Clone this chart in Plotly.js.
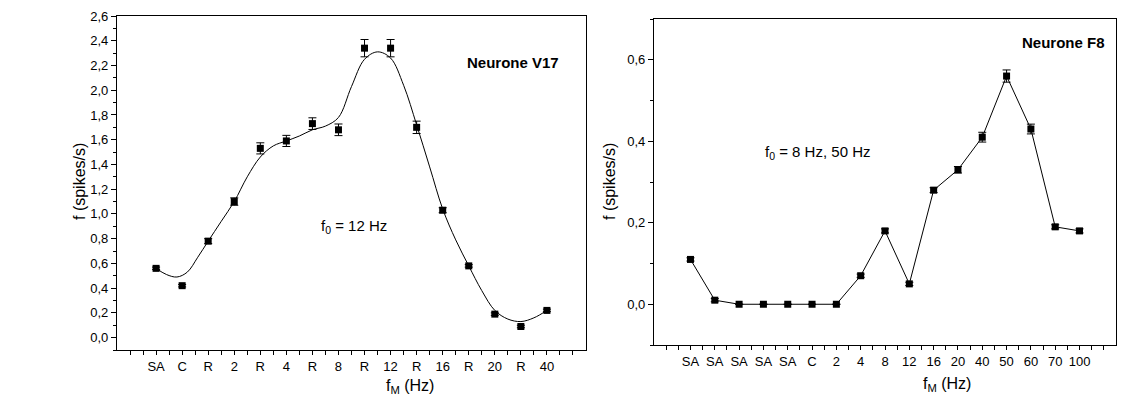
<!DOCTYPE html>
<html>
<head>
<meta charset="utf-8">
<script src="https://cdn.plot.ly/plotly-3.0.1.min.js"></script>
<style>
  html, body { margin: 0; padding: 0; background: #fff; }
  #chart { width: 1140px; height: 396px; }
</style>
</head>
<body>
<div id="chart"></div>
<script>
// Neurone V17: stimulus sequence, mean rate and error
const catsV17 = ['SA','C','R','2','R','4','R','8','R','12','R','16','R','20','R','40'];
const rateV17 = [0.56,0.42,0.78,1.10,1.53,1.59,1.73,1.68,2.34,2.34,1.70,1.03,0.58,0.19,0.09,0.22];
const errV17  = [0.01,0.01,0.02,0.03,0.045,0.045,0.047,0.047,0.07,0.07,0.05,0.02,0.01,0.01,0.01,0.01];

// Smoothed fit through the V17 responses (position in sequence, rate)
const fitPosV17  = [0,0.4,0.8,1.2,1.6,2,2.5,3,3.5,4,4.5,5,5.5,6,6.5,7,7.5,8,8.5,9,9.5,10,10.5,11,11.5,12,12.5,13,13.5,14,14.5,15];
const fitRateV17 = [0.56,0.51,0.49,0.53,0.65,0.78,0.94,1.10,1.30,1.46,1.55,1.59,1.63,1.68,1.71,1.78,2.03,2.25,2.31,2.26,2.04,1.72,1.38,1.04,0.79,0.58,0.38,0.22,0.15,0.13,0.16,0.22];

// Neurone F8: stimulus sequence, mean rate and error
const catsF8 = ['SA','SA','SA','SA','SA','C','2','4','8','12','16','20','40','50','60','70','100'];
const rateF8 = [0.11,0.01,0,0,0,0,0,0.07,0.18,0.05,0.28,0.33,0.41,0.56,0.43,0.19,0.18];
const errF8  = [0.004,0.004,0,0,0,0,0,0.004,0.005,0.004,0.006,0.008,0.012,0.015,0.012,0.005,0.005];

const FONT = 'Liberation Sans, Arial, Helvetica, sans-serif';
const W = 1140, H = 396;

// plot areas in pixels
const boxL = {x0: 117, x1: 586, y0: 16, y1: 350};
const boxR = {x0: 654, x1: 1116, y0: 19, y1: 345};
const px = v => v / W;
const py = v => 1 - v / H;

function idx(n) { return Array.from({length: n}, (_, i) => i); }

// category ticks every half step; only whole steps carry a label
function catTicks(cats) {
  const vals = [], text = [];
  for (let k = -2; k <= 2 * cats.length; k++) {
    const v = k / 2;
    vals.push(v);
    text.push(Number.isInteger(v) && v >= 0 && v < cats.length ? cats[v] : '');
  }
  return {vals, text};
}

const tL = catTicks(catsV17);
const tR = catTicks(catsF8);

const axisCommon = {
  showline: true, mirror: true, linecolor: '#000', linewidth: 1.3,
  showgrid: false, zeroline: false, ticks: 'outside', tickcolor: '#000',
  tickwidth: 1, tickfont: {family: FONT, size: 13, color: '#000'}
};

const markerStyle = {symbol: 'square', size: 7, color: '#000'};

const traces = [
  {
    x: fitPosV17, y: fitRateV17, xaxis: 'x', yaxis: 'y',
    mode: 'lines', line: {color: '#000', width: 1, shape: 'spline', smoothing: 1},
    hoverinfo: 'skip'
  },
  {
    x: idx(catsV17.length), y: rateV17, xaxis: 'x', yaxis: 'y',
    mode: 'markers', marker: markerStyle,
    error_y: {type: 'data', array: errV17, visible: true, color: '#000', thickness: 1, width: 4}
  },
  {
    x: idx(catsF8.length), y: rateF8, xaxis: 'x2', yaxis: 'y2',
    mode: 'lines+markers', marker: markerStyle, line: {color: '#000', width: 1},
    error_y: {type: 'data', array: errF8, visible: true, color: '#000', thickness: 1, width: 4}
  }
];

const layout = {
  width: W, height: H,
  margin: {l: 0, r: 0, t: 0, b: 0},
  paper_bgcolor: '#fff', plot_bgcolor: '#fff',
  showlegend: false,
  separators: ',.',
  font: {family: FONT, color: '#000'},
  xaxis: Object.assign({}, axisCommon, {
    domain: [px(boxL.x0), px(boxL.x1)], anchor: 'y',
    range: [-1.5, catsV17.length + 0.5],
    tickmode: 'array', tickvals: tL.vals, ticktext: tL.text, ticklen: 4
  }),
  yaxis: Object.assign({}, axisCommon, {
    domain: [py(boxL.y1), py(boxL.y0)], anchor: 'x',
    range: [-0.1, 2.6], tick0: 0, dtick: 0.2, tickformat: '.1f', ticklen: 5,
    minor: {dtick: 0.1, tick0: 0, ticks: 'outside', ticklen: 3, tickcolor: '#000', tickwidth: 1}
  }),
  xaxis2: Object.assign({}, axisCommon, {
    domain: [px(boxR.x0), px(boxR.x1)], anchor: 'y2',
    range: [-1.5, catsF8.length + 0.5],
    tickmode: 'array', tickvals: tR.vals, ticktext: tR.text, ticklen: 4
  }),
  yaxis2: Object.assign({}, axisCommon, {
    domain: [py(boxR.y1), py(boxR.y0)], anchor: 'x2',
    range: [-0.1, 0.7], tick0: 0, dtick: 0.2, tickformat: '.1f', ticklen: 5,
    minor: {dtick: 0.1, tick0: 0, ticks: 'outside', ticklen: 3, tickcolor: '#000', tickwidth: 1}
  }),
  annotations: [
    {text: '<b>Neurone V17</b>', xref: 'x domain', yref: 'y domain', x: 0.947, y: 0.86,
     xanchor: 'right', yanchor: 'middle', showarrow: false, font: {family: FONT, size: 15}},
    {text: 'f<sub>0</sub> = 12 Hz', xref: 'x domain', yref: 'y domain', x: 0.43, y: 0.37,
     xanchor: 'left', yanchor: 'middle', showarrow: false, font: {family: FONT, size: 15}},
    {text: '<b>Neurone F8</b>', xref: 'x2 domain', yref: 'y2 domain', x: 0.98, y: 0.928,
     xanchor: 'right', yanchor: 'middle', showarrow: false, font: {family: FONT, size: 15}},
    {text: 'f<sub>0</sub> = 8 Hz, 50 Hz', xref: 'x2 domain', yref: 'y2 domain', x: 0.236, y: 0.59,
     xanchor: 'left', yanchor: 'middle', showarrow: false, font: {family: FONT, size: 15}},
    {text: 'f (spikes/s)', xref: 'paper', yref: 'paper', x: px(80), y: py(182), textangle: -90,
     xanchor: 'center', yanchor: 'middle', showarrow: false, font: {family: FONT, size: 16}},
    {text: 'f (spikes/s)', xref: 'paper', yref: 'paper', x: px(610), y: py(182), textangle: -90,
     xanchor: 'center', yanchor: 'middle', showarrow: false, font: {family: FONT, size: 16}},
    {text: 'f<sub>M</sub> (Hz)', xref: 'paper', yref: 'paper', x: px(410), y: py(386),
     xanchor: 'center', yanchor: 'middle', showarrow: false, font: {family: FONT, size: 16}},
    {text: 'f<sub>M</sub> (Hz)', xref: 'paper', yref: 'paper', x: px(947), y: py(384),
     xanchor: 'center', yanchor: 'middle', showarrow: false, font: {family: FONT, size: 16}}
  ]
};

Plotly.newPlot('chart', traces, layout, {displayModeBar: false});
</script>
</body>
</html>
